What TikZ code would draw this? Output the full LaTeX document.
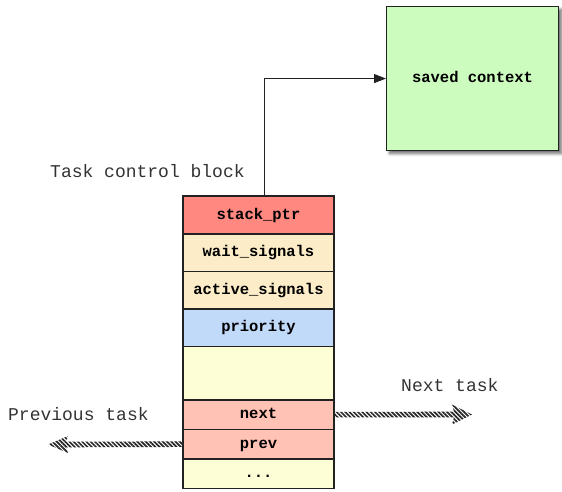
\documentclass[tikz,border=0pt]{standalone}
\usepackage{fontspec}
\newfontfamily\monofont{Liberation Mono}
\usetikzlibrary{positioning,calc,fit,backgrounds,shadows.blur,patterns.meta,arrows.meta}

\definecolor{ptrred}{HTML}{FF8880}
\definecolor{sigtan}{HTML}{FDECC8}
\definecolor{priblue}{HTML}{C2DAFA}
\definecolor{paleyellow}{HTML}{FEFED6}
\definecolor{linkpink}{HTML}{FFC2B4}
\definecolor{ctxgreen}{HTML}{CCFCBE}
\definecolor{edge}{HTML}{222222}

\tikzset{
  boldcode/.style={font=\monofont\bfseries\fontsize{15.5}{18}\selectfont,
    text height=11pt, text depth=3pt},
  field/.style={boldcode, draw=edge, line width=1.1pt, minimum width=151pt,
    inner sep=0pt, outer sep=0pt, anchor=north},
  caption/.style={inner sep=0pt, anchor=base west, text=black!80,
    font=\monofont\fontsize{18}{21}\selectfont},
  softshadow/.style={blur shadow={shadow xshift=3pt, shadow yshift=-3pt,
    shadow blur radius=3pt, shadow blur steps=6, shadow opacity=60}},
  hatch/.style={pattern={Lines[angle=-45,distance=3pt,line width=1.7pt]},
    pattern color=black!85},
}

\begin{document}
\begin{tikzpicture}[x=1pt,y=-1pt]
  \useasboundingbox (0,0) rectangle (562,491);

  % task control block, one field per row
  \node[field, fill=ptrred, minimum height=38pt] (sp) at (258.5,196) {stack\_ptr};
  \node[field, fill=sigtan, minimum height=37.5pt, below=0pt of sp] (wait) {wait\_signals};
  \node[field, fill=sigtan, minimum height=37.5pt, below=0pt of wait] (active) {active\_signals};
  \node[field, fill=priblue, minimum height=37.5pt, below=0pt of active] (prio) {priority};
  \node[field, fill=paleyellow, minimum height=53.5pt, below=0pt of prio] (blank) {};
  \node[field, fill=linkpink, minimum height=29.3pt, below=0pt of blank] (next) {next};
  \node[field, fill=linkpink, minimum height=29.7pt, below=0pt of next] (prev) {prev};
  \node[field, fill=paleyellow, minimum height=29.5pt, below=0pt of prev] (dots) {...};

  \begin{scope}[on background layer]
    \node[fit=(sp)(dots), inner sep=0pt, fill=white, softshadow] (tcb) {};
  \end{scope}

  % saved context
  \node[boldcode, draw=edge, line width=1.1pt, fill=ctxgreen, minimum width=172pt,
    minimum height=144pt, inner sep=0pt, anchor=north west, softshadow] (ctx) at (386,6)
    {saved context};

  \draw[edge, line width=0.9pt, -{Triangle[length=12pt,width=9pt]}]
    ([xshift=5.5pt]sp.north) |- (ctx.west);

  % captions
  \node[caption] (tcblabel) at (50,177) {Task control block};
  \node[caption] (nextlabel) at (401,391) {Next task};
  \node[caption] (prevlabel) at (8,420) {Previous task};

  % hatched links to neighbouring tasks
  \coordinate (ntip) at (472,414.5);
  \coordinate (ptip) at (48,444.5);
  \fill[hatch] ($(next.east)+(0,-2.8)$) -- ($(ntip)+(-18,-2.8)$) -- ($(ntip)+(-20,-10)$)
    -- (ntip) -- ($(ntip)+(-20,10)$) -- ($(ntip)+(-18,2.8)$) -- ($(next.east)+(0,2.8)$) -- cycle;
  \fill[hatch] ($(prev.west)+(0,-2.8)$) -- ($(ptip)+(18,-2.8)$) -- ($(ptip)+(20,-8.5)$)
    -- (ptip) -- ($(ptip)+(20,8.5)$) -- ($(ptip)+(18,2.8)$) -- ($(prev.west)+(0,2.8)$) -- cycle;
\end{tikzpicture}
\end{document}
